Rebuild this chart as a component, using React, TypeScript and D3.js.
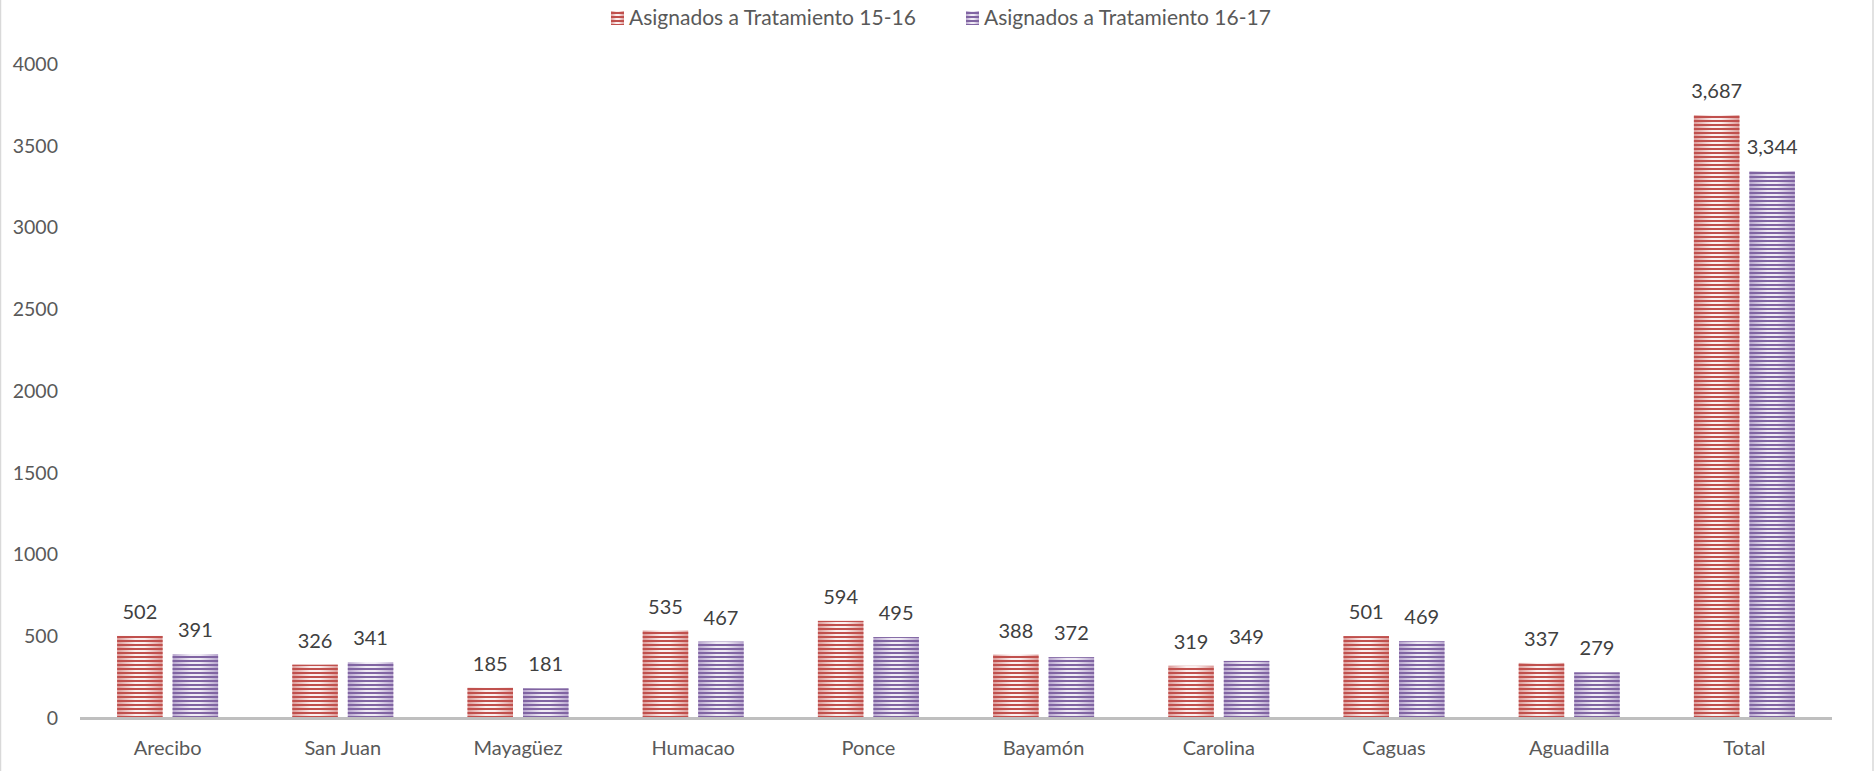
import React from "react";
import * as d3 from "d3";

const categories = ["Arecibo", "San Juan", "Mayagüez", "Humacao", "Ponce", "Bayamón", "Carolina", "Caguas", "Aguadilla", "Total"];
const seriesNames = ["Asignados a Tratamiento 15-16", "Asignados a Tratamiento 16-17"];
const values1516 = [502, 326, 185, 535, 594, 388, 319, 501, 337, 3687];
const values1617 = [391, 341, 181, 467, 495, 372, 349, 469, 279, 3344];
const yTicks = [0, 500, 1000, 1500, 2000, 2500, 3000, 3500, 4000];

const W = 1875;
const H = 771;
const FONT = "Lato, 'Open Sans', sans-serif";

const seriesStyle = [
  { id: "s0", dark: "#c0504d", edge: "#dc9a98", center: "#fbf0f0" },
  { id: "s1", dark: "#8064a2", edge: "#b8a6ce", center: "#f0ecf5" },
];

export default function App() {
  const x0 = d3.scaleBand<string>().domain(categories).range([80, 1832]).padding(0);
  const y = d3.scaleLinear().domain([0, 4000]).range([718, 64]);
  const groupW = 101;
  const x1 = d3.scaleBand<number>().domain([0, 1]).range([0, groupW]).paddingInner(0.18);
  const fmt = d3.format(",");
  const data = [values1516, values1617];

  return (
    <svg width={W} height={H} style={{ position: "absolute", left: 0, top: 0, background: "#fff" }} fontFamily={FONT}>
      <defs>
        {seriesStyle.map((s) => (
          <React.Fragment key={s.id}>
            <linearGradient id={`g-${s.id}`} x1="0" x2="1" y1="0" y2="0">
              <stop offset="0" stopColor={s.edge} />
              <stop offset="0.4" stopColor={s.center} />
              <stop offset="0.6" stopColor={s.center} />
              <stop offset="1" stopColor={s.edge} />
            </linearGradient>
            <pattern id={`p-${s.id}`} patternUnits="userSpaceOnUse" x="0" y="0" width="8" height="4">
              <rect x="0" y="0" width="8" height="2" fill={s.dark} />
            </pattern>
          </React.Fragment>
        ))}
      </defs>

      {/* frame sides */}
      <line x1={0.5} x2={0.5} y1={0} y2={H} stroke="#d9d9d9" strokeWidth={1.5} />
      <line x1={1873} x2={1873} y1={0} y2={H} stroke="#d9d9d9" strokeWidth={1.5} />

      {/* legend */}
      {seriesNames.map((name, i) => {
        const sx = i === 0 ? 611 : 966;
        const s = seriesStyle[i];
        return (
          <g key={name}>
            <rect x={sx} y={11} width={13} height={14} fill={`url(#g-${s.id})`} />
            <rect x={sx} y={11} width={13} height={14} fill={`url(#p-${s.id})`} />
            <text x={sx + 18} y={25} fontSize={21} fill="#595959">{name}</text>
          </g>
        );
      })}

      {/* y tick labels */}
      {yTicks.map((t) => (
        <text key={t} x={58} y={y(t)} dy="0.35em" textAnchor="end" fontSize={19.5} fill="#595959">
          {t}
        </text>
      ))}

      {/* bars */}
      {categories.map((c, ci) => {
        const cx = (x0(c) as number) + x0.bandwidth() / 2;
        const gx = cx - groupW / 2;
        return (
          <g key={c}>
            {data.map((vals, si) => {
              const s = seriesStyle[si];
              const bx = gx + (x1(si) as number);
              const bw = x1.bandwidth();
              const top = y(vals[ci]);
              const h = y(0) - top;
              return (
                <g key={si}>
                  <rect x={bx} y={top} width={bw} height={h} fill={`url(#g-${s.id})`} />
                  <rect x={bx} y={top} width={bw} height={h} fill={`url(#p-${s.id})`} />
                  <text x={bx + bw / 2} y={top - 17} textAnchor="middle" fontSize={20} fill="#404040">
                    {fmt(vals[ci])}
                  </text>
                </g>
              );
            })}
            <text x={cx} y={755} textAnchor="middle" fontSize={20} fill="#595959">{c}</text>
          </g>
        );
      })}

      {/* x axis */}
      <line x1={80} x2={1832} y1={y(0) + 0.5} y2={y(0) + 0.5} stroke="#bfbfbf" strokeWidth={3} />
    </svg>
  );
}
